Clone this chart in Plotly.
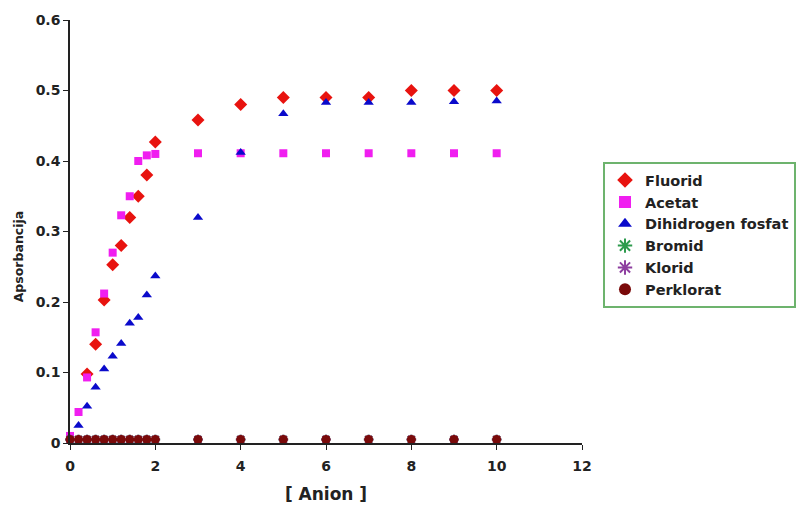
import plotly.graph_objects as go

x_low = [0, 0.2, 0.4, 0.6, 0.8, 1.0, 1.2, 1.4, 1.6, 1.8, 2.0]
x_high = [3, 4, 5, 6, 7, 8, 9, 10]
x_all = x_low + x_high

fluorid_x = [0.4, 0.6, 0.8, 1.0, 1.2, 1.4, 1.6, 1.8, 2.0] + x_high
fluorid_y = [0.098, 0.140, 0.203, 0.253, 0.280, 0.320, 0.350, 0.380, 0.427,
             0.458, 0.480, 0.490, 0.490, 0.490, 0.500, 0.500, 0.500]

acetat_y = [0.010, 0.044, 0.093, 0.157, 0.212, 0.270, 0.323, 0.350, 0.400, 0.408, 0.410,
            0.411, 0.411, 0.411, 0.411, 0.411, 0.411, 0.411, 0.411]

fosfat_x = x_low[1:] + x_high
fosfat_y = [0.025, 0.052, 0.079, 0.105, 0.123, 0.141, 0.170, 0.178, 0.210, 0.237,
            0.320, 0.412, 0.467, 0.483, 0.483, 0.483, 0.484, 0.485]

bromid_y = [0.005] * len(x_all)
klorid_y = [0.005] * len(x_all)
perklorat_y = [0.005] * len(x_all)

x_ticks = [0, 2, 4, 6, 8, 10, 12]
y_ticks = [0, 0.1, 0.2, 0.3, 0.4, 0.5, 0.6]
y_tick_labels = ["0", "0.1", "0.2", "0.3", "0.4", "0.5", "0.6"]

FONT = "DejaVu Sans, Liberation Sans, Arial, sans-serif"

fig = go.Figure()
fig.add_trace(go.Scatter(x=fluorid_x, y=fluorid_y, mode="markers", name="Fluorid",
                         marker=dict(symbol="diamond", size=10, color="#E8130F")))
fig.add_trace(go.Scatter(x=x_all, y=acetat_y, mode="markers", name="Acetat",
                         marker=dict(symbol="square", size=8, color="#F01EF0")))
fig.add_trace(go.Scatter(x=fosfat_x, y=fosfat_y, mode="markers", name="Dihidrogen fosfat",
                         marker=dict(symbol="triangle-up", size=9, color="#0A0ACB")))
fig.add_trace(go.Scatter(x=x_all, y=bromid_y, mode="markers", name="Bromid",
                         marker=dict(symbol="asterisk", size=8, color="#2E9B4E",
                                     line=dict(width=2, color="#2E9B4E"))))
fig.add_trace(go.Scatter(x=x_all, y=klorid_y, mode="markers", name="Klorid",
                         marker=dict(symbol="asterisk", size=8, color="#8E3FA0",
                                     line=dict(width=2, color="#8E3FA0"))))
fig.add_trace(go.Scatter(x=x_all, y=perklorat_y, mode="markers", name="Perklorat",
                         marker=dict(symbol="circle", size=9, color="#7A0A0A")))

fig.update_traces(cliponaxis=False)

axis_font = dict(family=FONT, size=14, color="#222222", weight="bold")

fig.update_layout(
    width=799, height=498,
    margin=dict(l=62, r=224, t=12, b=63),
    paper_bgcolor="white", plot_bgcolor="white",
    font=dict(family=FONT, color="#222222"),
    showlegend=True,
    legend=dict(
        x=1.039, y=0.664, xanchor="left", yanchor="top",
        bordercolor="#6DB36D", borderwidth=2, bgcolor="white",
        font=dict(family=FONT, size=14.5, color="#222222", weight="bold"),
        itemsizing="constant", entrywidth=230, tracegroupgap=0,
    ),
    xaxis=dict(
        range=[0, 12], tickvals=x_ticks, ticktext=[str(v) for v in x_ticks],
        showgrid=False, zeroline=False, showline=True, linecolor="#222222", linewidth=1.5,
        ticks="outside", ticklen=5, tickcolor="#222222", tickfont=axis_font,
        ticklabelstandoff=4, automargin=False,
        title=dict(text="[ Anion ]", standoff=16,
                   font=dict(family=FONT, size=17, color="#222222", weight="bold")),
    ),
    yaxis=dict(
        range=[0, 0.6], tickvals=y_ticks, ticktext=y_tick_labels,
        showgrid=False, zeroline=False, showline=True, linecolor="#222222", linewidth=1.5,
        ticks="outside", ticklen=5, tickcolor="#222222", tickfont=axis_font,
        automargin=False,
    ),
    annotations=[dict(
        text="Apsorbancija", textangle=-90, showarrow=False,
        xref="paper", yref="paper", x=-0.101, y=0.442,
        xanchor="center", yanchor="middle",
        font=dict(family=FONT, size=12.5, color="#222222", weight="bold"),
    )],
)

fig.write_html("out.html")
